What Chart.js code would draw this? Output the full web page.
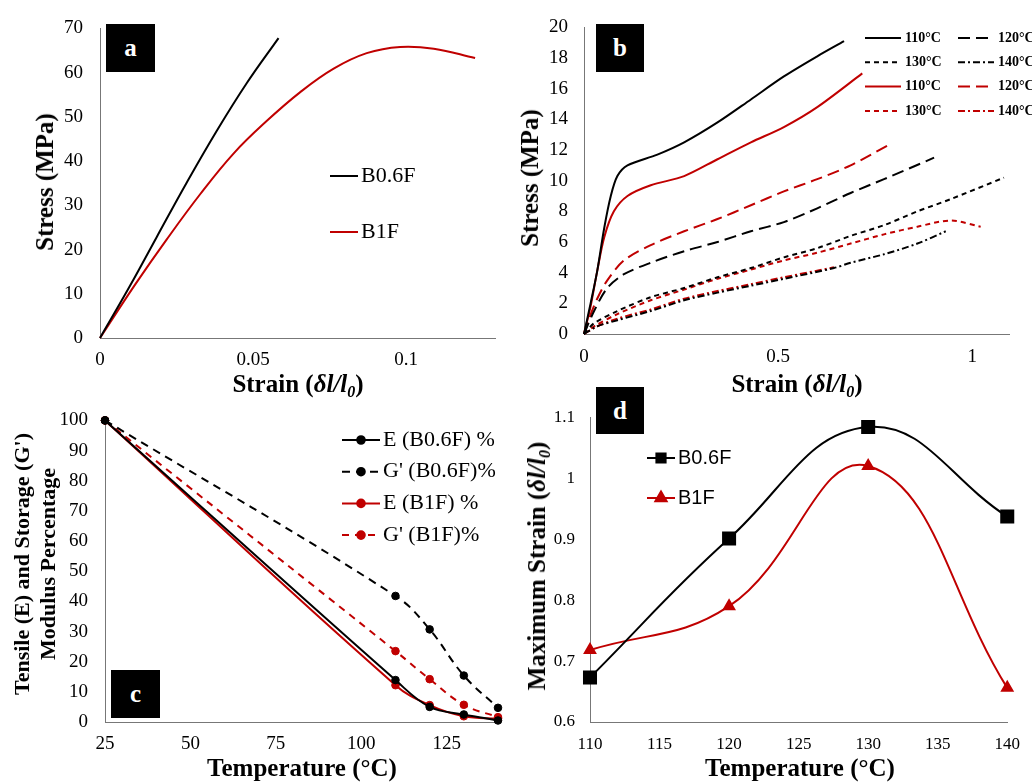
<!DOCTYPE html>
<html>
<head>
<meta charset="utf-8">
<script src="https://cdn.jsdelivr.net/npm/chart.js@4.4.0/dist/chart.umd.min.js"></script>
<style>
  body { margin: 0; background: #fff; }
  #page { position: relative; width: 1032px; height: 782px; overflow: hidden; font-family: "Liberation Serif", "Times New Roman", serif; }
  canvas { position: absolute; }
  .title { position: absolute; font-weight: bold; font-size: 25px; white-space: nowrap; transform: translate(-50%, -50%); color: #000; }
  .title.rot { transform: translate(-50%, -50%) rotate(-90deg); }
  .title sub { font-size: 16px; vertical-align: -5px; line-height: 0; }
  .tag { position: absolute; background: #000; color: #fff; font-weight: bold; font-size: 25px; display: flex; align-items: center; justify-content: center; }
</style>
</head>
<body>
<div id="page">
  <canvas id="chartA" width="516" height="392" style="left:0;top:0"></canvas>
  <canvas id="chartB" width="516" height="392" style="left:516px;top:0"></canvas>
  <canvas id="chartC" width="516" height="390" style="left:0;top:392px"></canvas>
  <canvas id="chartD" width="516" height="390" style="left:516px;top:392px"></canvas>

  <div class="tag" style="left:106px;top:24px;width:49px;height:48px">a</div>
  <div class="tag" style="left:596px;top:24px;width:48px;height:48px">b</div>
  <div class="tag" style="left:111px;top:670px;width:49px;height:48px">c</div>
  <div class="tag" style="left:596px;top:387px;width:48px;height:47px">d</div>

  <div class="title rot" style="left:45px;top:182px">Stress (MPa)</div>
  <div class="title" style="left:298px;top:384px">Strain (<i>δl/l<sub>0</sub></i>)</div>
  <div class="title rot" style="left:530px;top:178px">Stress (MPa)</div>
  <div class="title" style="left:797px;top:384px">Strain (<i>δl/l<sub>0</sub></i>)</div>
  <div class="title rot" style="left:35px;top:564px;font-size:22px;line-height:26px;text-align:center">Tensile (E) and Storage (G')<br>Modulus Percentage</div>
  <div class="title" style="left:302px;top:768px">Temperature (°C)</div>
  <div class="title rot" style="left:537px;top:566px">Maximum Strain (<i>δl/l<sub>0</sub></i>)</div>
  <div class="title" style="left:800px;top:768px">Temperature (°C)</div>
</div>
<script>
// ---- panel a: stress-strain at room temperature
const aStrainB06F = [0, 0.0098, 0.0185, 0.0283, 0.0381, 0.0479, 0.0583];
const aStressB06F = [0, 11.8, 22.8, 35.1, 46.8, 57.6, 67.8];
const aStrainB1F = [0, 0.0114, 0.0218, 0.0327, 0.0436, 0.0545, 0.0654, 0.0763, 0.0871, 0.098, 0.109, 0.1225];
const aStressB1F = [0, 12, 22.3, 32.5, 41.7, 49.1, 55.6, 60.9, 64.4, 65.8, 65.4, 63.3];
const aXTicks = [0, 0.05, 0.1];
const aYTicks = [0, 10, 20, 30, 40, 50, 60, 70];

// ---- panel b: stress-strain at elevated temperatures
const b06f110Strain = [0, 0.017, 0.034, 0.052, 0.069, 0.086, 0.112, 0.189, 0.258, 0.344, 0.43, 0.515, 0.6, 0.67];
const b06f110Stress = [0, 2.0, 4.1, 6.9, 9.0, 10.3, 11.0, 11.7, 12.5, 13.8, 15.3, 16.8, 18.1, 19.1];
const b06f120Strain = [0, 0.026, 0.06, 0.103, 0.172, 0.258, 0.344, 0.43, 0.515, 0.601, 0.687, 0.773, 0.902];
const b06f120Stress = [0, 1.5, 3.0, 3.9, 4.65, 5.4, 6.0, 6.7, 7.3, 8.2, 9.2, 10.1, 11.5];
const b06f130Strain = [0, 0.026, 0.086, 0.172, 0.258, 0.344, 0.43, 0.515, 0.601, 0.687, 0.773, 0.859, 0.945, 1.082];
const b06f130Stress = [0, 0.7, 1.5, 2.4, 3.0, 3.7, 4.3, 5.0, 5.6, 6.4, 7.1, 8.0, 8.8, 10.2];
const b06f140Strain = [0, 0.034, 0.086, 0.172, 0.258, 0.344, 0.43, 0.515, 0.644, 0.687, 0.773, 0.859, 0.932];
const b06f140Stress = [0, 0.5, 0.9, 1.5, 2.2, 2.7, 3.15, 3.6, 4.3, 4.65, 5.2, 5.9, 6.7];
const b1f110Strain = [0, 0.017, 0.034, 0.052, 0.077, 0.112, 0.172, 0.258, 0.344, 0.43, 0.515, 0.601, 0.717];
const b1f110Stress = [0, 1.8, 4.1, 6.3, 8.0, 9.0, 9.7, 10.3, 11.4, 12.5, 13.5, 14.8, 17.0];
const b1f120Strain = [0, 0.013, 0.034, 0.06, 0.103, 0.172, 0.258, 0.344, 0.43, 0.515, 0.601, 0.687, 0.79];
const b1f120Stress = [0, 1.0, 2.3, 3.5, 4.8, 5.8, 6.7, 7.5, 8.4, 9.3, 10.1, 11.0, 12.4];
const b1f130Strain = [0, 0.026, 0.086, 0.172, 0.258, 0.344, 0.43, 0.515, 0.601, 0.687, 0.773, 0.859, 0.945, 1.022];
const b1f130Stress = [0, 0.5, 1.3, 2.2, 2.9, 3.6, 4.2, 4.8, 5.3, 5.9, 6.5, 7.0, 7.4, 7.0];
const b1f140Strain = [0, 0.034, 0.086, 0.172, 0.258, 0.344, 0.43, 0.515, 0.644];
const b1f140Stress = [0, 0.5, 1.0, 1.6, 2.3, 2.8, 3.25, 3.7, 4.35];
const bXTicks = [0, 0.5, 1];
const bYTicks = [0, 2, 4, 6, 8, 10, 12, 14, 16, 18, 20];

// ---- panel c: modulus retention vs temperature
const cTemps = [25, 110, 120, 130, 140];
const cE_B06F = [100, 13.9, 5.0, 2.5, 0.5];
const cG_B06F = [100, 41.8, 30.7, 15.4, 4.7];
const cE_B1F = [100, 12.2, 5.6, 1.9, 1.1];
const cG_B1F = [100, 23.5, 14.2, 5.7, 1.6];
const cXTicks = [25, 50, 75, 100, 125];
const cYTicks = [0, 10, 20, 30, 40, 50, 60, 70, 80, 90, 100];

// ---- panel d: maximum strain vs temperature
const dTemps = [110, 120, 130, 140];
const dB06F = [0.673, 0.901, 1.084, 0.937];
const dB1F = [0.718, 0.790, 1.020, 0.656];
const dXTicks = [110, 115, 120, 125, 130, 135, 140];
const dYTicks = [0.6, 0.7, 0.8, 0.9, 1.0, 1.1];

const BLACK = '#000000';
const RED = '#C00000';
const AXIS = '#777777';
const SERIF = '"Liberation Serif", "Times New Roman", serif';
const SANS = '"Liberation Sans", Arial, sans-serif';

const pts = (xs, ys) => xs.map((x, i) => ({ x, y: ys[i] }));

// legend drawn inside the plot area, in a grid
const insideLegend = {
  id: 'insideLegend',
  afterDraw(chart, args, opts) {
    const ctx = chart.ctx;
    ctx.save();
    chart.data.datasets.forEach((ds, i) => {
      const col = i % opts.cols;
      const row = Math.floor(i / opts.cols);
      const x = opts.x + col * opts.colGap;
      const y = opts.y + row * opts.rowGap;
      ctx.strokeStyle = ds.borderColor;
      ctx.fillStyle = ds.borderColor;
      ctx.lineWidth = ds.borderWidth;
      ctx.setLineDash(ds.borderDash || []);
      ctx.beginPath();
      ctx.moveTo(x, y);
      ctx.lineTo(x + opts.sample, y);
      ctx.stroke();
      ctx.setLineDash([]);
      if (ds.pointRadius) {
        Chart.helpers.drawPoint(ctx, {
          pointStyle: ds.pointStyle || 'circle',
          radius: opts.markerRadius || ds.pointRadius,
          borderWidth: 1
        }, x + opts.sample / 2, y);
      }
      ctx.fillStyle = '#000';
      ctx.font = opts.font;
      ctx.textBaseline = 'middle';
      ctx.textAlign = 'left';
      ctx.fillText(ds.label, x + opts.sample + opts.gap, y);
    });
    ctx.restore();
  }
};

function axis(min, max, tickValues, fontSize, pad, size, horizontal) {
  return {
    type: 'linear',
    min, max,
    afterBuildTicks: s => { s.ticks = tickValues.map(v => ({ value: v })); },
    afterFit: s => { if (horizontal) s.height = size; else s.width = size; },
    ticks: {
      color: '#000',
      padding: pad,
      font: { family: SERIF, size: fontSize },
      callback: v => String(+Number(v).toFixed(3))
    },
    grid: { drawOnChartArea: false, drawTicks: false },
    border: { display: true, color: AXIS, width: 1 }
  };
}

function opts(cfg) {
  return {
    responsive: false,
    animation: false,
    layout: { padding: cfg.padding },
    plugins: {
      legend: { display: false },
      tooltip: { enabled: false },
      insideLegend: cfg.legend
    },
    scales: {
      x: axis(cfg.x[0], cfg.x[1], cfg.xTicks, cfg.font, cfg.xPad, 40, true),
      y: axis(cfg.y[0], cfg.y[1], cfg.yTicks, cfg.font, cfg.yPad, cfg.yWidth || 40, false)
    }
  };
}

function line(label, data, color, extra) {
  return Object.assign({
    label, data,
    borderColor: color,
    backgroundColor: color,
    borderWidth: 2,
    pointRadius: 0,
    fill: false,
    tension: 0.4,
    clip: false
  }, extra || {});
}

// panel a
new Chart(document.getElementById('chartA'), {
  type: 'line',
  data: {
    datasets: [
      line('B0.6F', pts(aStrainB06F, aStressB06F), BLACK),
      line('B1F', pts(aStrainB1F, aStressB1F), RED)
    ]
  },
  options: opts({
    padding: { left: 60, top: 25, right: 21, bottom: 14 },
    x: [0, 0.129], y: [0, 70], xTicks: aXTicks, yTicks: aYTicks,
    font: 19, xPad: 11, yPad: 17,
    legend: { x: 330, y: 176, cols: 1, colGap: 0, rowGap: 56, sample: 28, gap: 3, font: '22px ' + SERIF }
  }),
  plugins: [insideLegend]
});

// panel b
const LONG = [12, 6], SHORT = [5, 4], DASHDOT = [7, 3, 2, 3];
const bt = { tension: 0.3 };
new Chart(document.getElementById('chartB'), {
  type: 'line',
  data: {
    datasets: [
      line('110°C', pts(b06f110Strain, b06f110Stress), BLACK, bt),
      line('120°C', pts(b06f120Strain, b06f120Stress), BLACK, Object.assign({ borderDash: LONG }, bt)),
      line('130°C', pts(b06f130Strain, b06f130Stress), BLACK, Object.assign({ borderDash: SHORT }, bt)),
      line('140°C', pts(b06f140Strain, b06f140Stress), BLACK, Object.assign({ borderDash: DASHDOT }, bt)),
      line('110°C', pts(b1f110Strain, b1f110Stress), RED, bt),
      line('120°C', pts(b1f120Strain, b1f120Stress), RED, Object.assign({ borderDash: LONG }, bt)),
      line('130°C', pts(b1f130Strain, b1f130Stress), RED, Object.assign({ borderDash: SHORT }, bt)),
      line('140°C', pts(b1f140Strain, b1f140Stress), RED, Object.assign({ borderDash: DASHDOT }, bt))
    ]
  },
  options: opts({
    padding: { left: 28, top: 23, right: 23, bottom: 18 },
    x: [0, 1.095], y: [0, 20], xTicks: bXTicks, yTicks: bYTicks,
    font: 19, xPad: 12, yPad: 16,
    legend: { x: 349, y: 38, cols: 2, colGap: 93, rowGap: 24.3, sample: 36, gap: 4, font: 'bold 14px ' + SERIF }
  }),
  plugins: [insideLegend]
});

// panel c
const dot = { pointRadius: 3.8, pointStyle: 'circle', pointBorderWidth: 1 };
new Chart(document.getElementById('chartC'), {
  type: 'line',
  data: {
    datasets: [
      line('E (B0.6F) %', pts(cTemps, cE_B06F), BLACK, dot),
      line("G' (B0.6F)%", pts(cTemps, cG_B06F), BLACK, Object.assign({ borderDash: [8, 6] }, dot)),
      line('E (B1F) %', pts(cTemps, cE_B1F), RED, dot),
      line("G' (B1F)%", pts(cTemps, cG_B1F), RED, Object.assign({ borderDash: [7, 6] }, dot))
    ]
  },
  options: opts({
    padding: { left: 55, top: 13, right: 18, bottom: 20 },
    x: [25, 140], y: [0, 100], xTicks: cXTicks, yTicks: cYTicks,
    font: 19, xPad: 11, yPad: 17, yWidth: 50,
    legend: { x: 342, y: 48, cols: 1, colGap: 0, rowGap: 31.7, sample: 38, gap: 3, font: '22px ' + SERIF }
  }),
  plugins: [insideLegend]
});

// panel d
new Chart(document.getElementById('chartD'), {
  type: 'line',
  data: {
    datasets: [
      line('B0.6F', pts(dTemps, dB06F), BLACK, { pointRadius: 8.5, pointStyle: 'rect', tension: 0.42 }),
      line('B1F', pts(dTemps, dB1F), RED, { pointRadius: 6, pointStyle: 'triangle', tension: 0.42 })
    ]
  },
  options: opts({
    padding: { left: 34, top: 18, right: 24, bottom: 20 },
    x: [110, 140], y: [0.6, 1.1], xTicks: dXTicks, yTicks: dYTicks,
    font: 17, xPad: 12, yPad: 15,
    legend: { x: 131, y: 66, cols: 1, colGap: 0, rowGap: 40, sample: 28, gap: 3, markerRadius: 6.5, font: '20px ' + SANS }
  }),
  plugins: [insideLegend]
});
</script>
</body>
</html>
